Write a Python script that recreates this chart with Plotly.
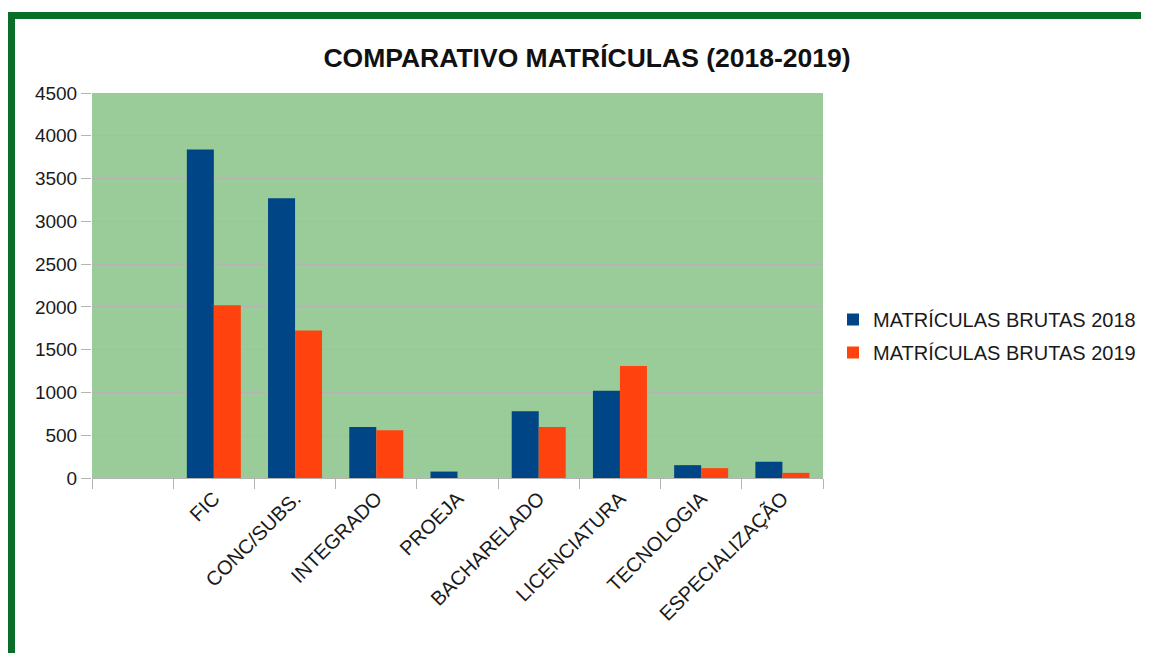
import plotly.graph_objects as go

categories = [" ", "FIC", "CONC/SUBS.", "INTEGRADO", "PROEJA", "BACHARELADO",
              "LICENCIATURA", "TECNOLOGIA", "ESPECIALIZAÇÃO"]
mat_2018 = [None, 3840, 3270, 595, 75, 780, 1020, 150, 190]
mat_2019 = [None, 2020, 1725, 558, 0, 595, 1310, 115, 60]
series_names = ["MATRÍCULAS BRUTAS 2018", "MATRÍCULAS BRUTAS 2019"]
title_text = "COMPARATIVO MATRÍCULAS (2018-2019)"

OFF = 8  # page body margin
W, H = 1149 - OFF, 653 - OFF
# plot area in page pixels
L, R, T, B = 92, 823, 93, 478


def px_x(x):
    return (x - L) / (R - L)


def px_y(y):
    return (B - y) / (B - T)


FONT = "Liberation Sans, Arial, sans-serif"

fig = go.Figure()
fig.add_trace(go.Bar(x=categories, y=mat_2018, name=series_names[0],
                     marker=dict(color="#004586", line=dict(width=0)),
                     legendgroup="a"))
fig.add_trace(go.Bar(x=categories, y=mat_2019, name=series_names[1],
                     marker=dict(color="#ff420e", line=dict(width=0)),
                     legendgroup="b"))

fig.update_layout(
    width=W, height=H, autosize=False,
    margin=dict(l=L - OFF, r=W - (R - OFF), t=T - OFF, b=H - (B - OFF), pad=0,
                autoexpand=False),
    paper_bgcolor="white",
    plot_bgcolor="#99cc99",
    barmode="group", bargap=0.335, bargroupgap=0,
    font=dict(family=FONT, color="#1a1a1a", size=16),
    title=dict(text="<b>" + title_text + "</b>", x=(587 - OFF) / W, xref="container",
               y=1 - (58 - OFF) / H, yref="container", xanchor="center", yanchor="middle",
               font=dict(family=FONT, size=26.5, color="#111111")),
    legend=dict(x=px_x(833), y=px_y(336), xanchor="left", yanchor="middle",
                font=dict(family=FONT, size=20, color="#1a1a1a"),
                traceorder="grouped", tracegroupgap=4, itemwidth=30,
                bgcolor="rgba(0,0,0,0)"),
    showlegend=True,
)

fig.update_xaxes(
    type="category", categoryorder="array", categoryarray=categories,
    tickson="boundaries", ticks="outside", ticklen=10, tickcolor="#b3b3b3",
    showline=True, linecolor="#b3b3b3", linewidth=1,
    showgrid=False, tickangle=-45, automargin=False,
    tickfont=dict(family=FONT, size=20, color="#1a1a1a"),
)
fig.update_yaxes(
    range=[0, 4500], dtick=500, tick0=0,
    ticks="outside", ticklen=10, tickcolor="#b3b3b3",
    showgrid=True, gridcolor="#b3b3b3", gridwidth=1,
    showline=False, zeroline=False, automargin=False,
    tickfont=dict(family=FONT, size=19, color="#1a1a1a"),
)

# green frame (top and left edges visible)
fig.add_shape(type="rect", xref="paper", yref="paper",
              x0=px_x(11.5), x1=px_x(1200), y0=px_y(700), y1=px_y(15.5),
              line=dict(color="#0a6e28", width=7), fillcolor="rgba(0,0,0,0)",
              layer="below")

fig.write_html("out.html")
